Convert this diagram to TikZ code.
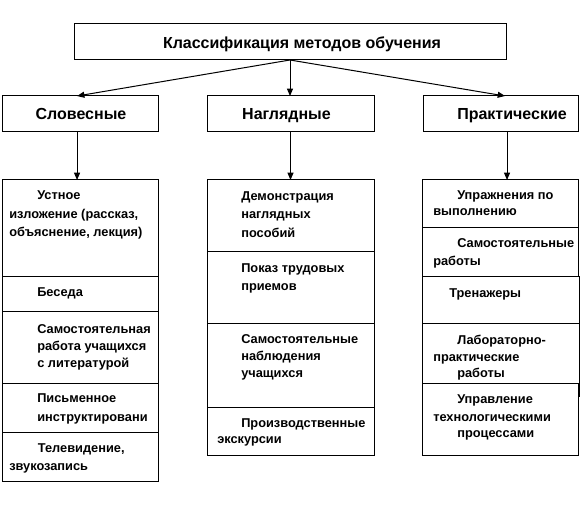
\documentclass[tikz,border=0pt]{standalone}
\usepackage{fontspec}
\setmainfont{Liberation Sans}
\usetikzlibrary{fit,arrows.meta}
\begin{document}
\begin{tikzpicture}[x=0.75pt,y=-0.75pt,
  box/.style={draw, line width=0.75pt, inner sep=0pt, outer sep=0pt, fill=white},
  head/.style={font=\bfseries\fontsize{12}{14}\selectfont, inner sep=0pt, anchor=base},
  txt/.style={font=\bfseries\fontsize{9.6}{13.5}\selectfont, inner sep=0pt, anchor=base west, align=left},
  ls/.style={font=\bfseries\fontsize{9.6}{#1}\selectfont},
  arr/.style={line width=0.75pt, -{Triangle[length=5.5pt,width=4.5pt]}}]
\useasboundingbox (0,0) rectangle (582,516);

% level 1 and 2 boxes
\node[box, fit={(74,24) (506,60)}] (top) {};
\node[box, fit={(2.5,96) (158,132)}] (sl) {};
\node[box, fit={(207,96) (374,132)}] (nag) {};
\node[box, fit={(423,96) (578,132)}] (pr) {};
\node[head] (topt) at (302,48.3) {Классификация методов обучения};
\node[head] (slt) at (81,120) {Словесные};
\node[head] (nagt) at (286.5,120) {Наглядные};
\node[head] (prt) at (512,120) {Практические};

% left column (texts anchored at the baseline of their last line)
\node[box, fit={(2.5,180) (158,277)}] (l1) {};
\node[box, fit={(2.5,277) (158,312)}] (l2) {};
\node[box, fit={(2.5,312) (158,384)}] (l3) {};
\node[box, fit={(2.5,384) (158,433)}] (l4) {};
\node[box, fit={(2.5,433) (158,481)}] (l5) {};
\node[txt, ls=13.9pt] (l1t) at (9,237) {\hspace*{21pt}Устное\\изложение (рассказ,\\объяснение, лекция)};
\node[txt] (l2t) at (37,296.5) {Беседа};
\node[txt, ls=13.1pt] (l3t) at (37,368) {Самостоятельная\\работа учащихся\\с литературой};
\node[txt, ls=13.9pt] (l4t) at (37,421.5) {Письменное\\инструктировани};
\node[txt, ls=13.1pt] (l5t) at (9,470) {\hspace*{21.5pt}Телевидение,\\звукозапись};

% middle column
\node[box, fit={(207,180) (374,252)}] (m1) {};
\node[box, fit={(207,252) (374,324)}] (m2) {};
\node[box, fit={(207,324) (374,408)}] (m3) {};
\node[box, fit={(207,408) (374,456)}] (m4) {};
\node[txt, ls=13.9pt] (m1t) at (241,237.5) {Демонстрация\\наглядных\\пособий};
\node[txt] (m2t) at (241,291) {Показ трудовых\\приемов};
\node[txt, ls=12.75pt] (m3t) at (241,378) {Самостоятельные\\наблюдения\\учащихся};
\node[txt, ls=12pt] (m4t) at (217,444) {\hspace*{18pt}Производственные\\экскурсии};

% right column
\node[box, fit={(422,180) (578,228)}] (r1) {};
\node[box, fit={(422,228) (578,277)}] (r2) {};
\node[box, fit={(422,277) (579,324)}] (r3) {};
\node[box, fit={(422,324) (579,397)}] (r4) {};
\node[box, fit={(422,384) (578,456)}] (r5) {};
\node[txt, ls=12pt] (r1t) at (433,216) {\hspace*{18pt}Упражнения по\\выполнению};
\node[txt] (r2t) at (433,265.5) {\hspace*{18pt}Самостоятельные\\работы};
\node[txt] (r3t) at (449,298) {Тренажеры};
\node[txt, ls=12.4pt] (r4t) at (433,378) {\hspace*{18pt}Лабораторно-\\практические\\\hspace*{18pt}работы};
\node[txt, ls=12.75pt] (r5t) at (433,438) {\hspace*{18pt}Управление\\технологическими\\\hspace*{18pt}процессами};

% connectors
\draw[arr] (top.south) -- ([xshift=-2.4pt]sl.north);
\draw[arr] (top.south) -- (top.south |- nag.north);
\draw[arr] (top.south) -- ([xshift=3.4pt]pr.north);
\draw[arr] ([xshift=-2.4pt]sl.south) -- ([xshift=-2.4pt]l1.north);
\draw[arr] (nag.south) -- (nag.south |- m1.north);
\draw[arr] ([xshift=4.9pt]pr.south) -- ([xshift=4.9pt]pr.south |- r1.north);
\end{tikzpicture}
\end{document}
